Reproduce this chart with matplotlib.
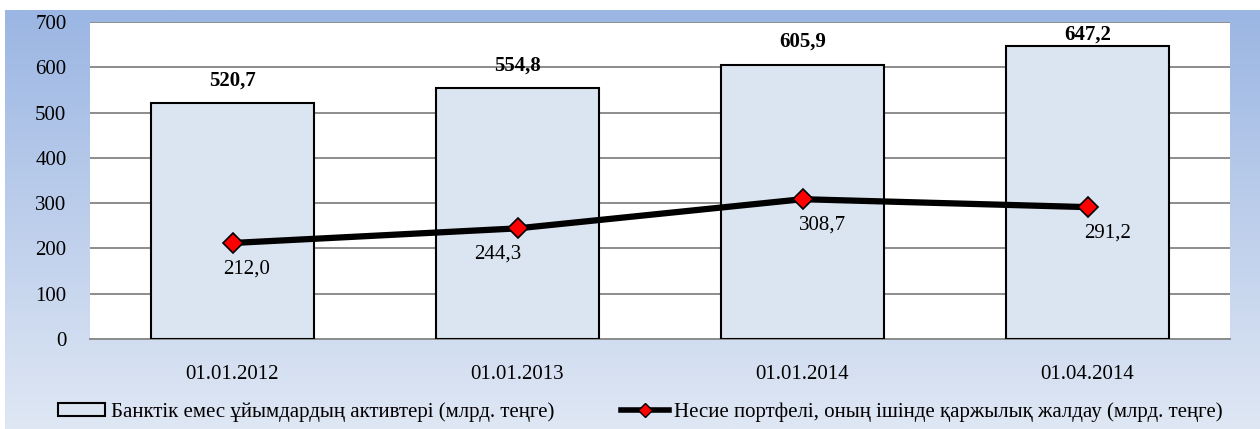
import matplotlib
matplotlib.use("Agg")
import matplotlib.pyplot as plt
import numpy as np
from matplotlib.lines import Line2D
from matplotlib.patches import Patch

categories = ["01.01.2012", "01.01.2013", "01.01.2014", "01.04.2014"]
assets = [520.7, 554.8, 605.9, 647.2]
loans = [212.0, 244.3, 308.7, 291.2]
asset_labels = ["520,7", "554,8", "605,9", "647,2"]
loan_labels = ["212,0", "244,3", "308,7", "291,2"]
yticks = [0, 100, 200, 300, 400, 500, 600, 700]
legend_bar = "Банктік емес ұйымдардың активтері (млрд. теңге)"
legend_line = "Несие портфелі, оның ішінде қаржылық жалдау (млрд. теңге)"

# horizontal offsets of the line labels (in category units)
loan_label_dx = [0.05, -0.07, 0.07, 0.07]

plt.rcParams['font.family'] = ['Liberation Serif', 'DejaVu Serif']
FS = 15

W, H = 1260, 429
fig = plt.figure(figsize=(W/100, H/100), dpi=100)

# gradient background
bg = fig.add_axes([5/W, 0, 1 - 5/W, 1 - 10/H], zorder=-10)
top = np.array([0x9b, 0xb6, 0xe3]) / 255
bot = np.array([0xdf, 0xe7, 0xf4]) / 255
t = np.linspace(0, 1, 256)[:, None]
grad = top[None, :] * (1 - t) + bot[None, :] * t
img = np.repeat(grad[:, None, :], 2, axis=1)
bg.imshow(img, aspect='auto', extent=[0, 1, 0, 1])
bg.axis('off')

left, right = 90, 1230
ytop, ybot = 22, 339
ax = fig.add_axes([left/W, 1 - ybot/H, (right-left)/W, (ybot-ytop)/H])
ax.set_facecolor('white')
x = np.arange(len(categories))
ax.bar(x, assets, width=0.57, color='#dbe5f1', edgecolor='black', linewidth=1.5, zorder=3)
ax.plot(x, loans, color='black', linewidth=4.5, marker='D', markersize=10,
        markerfacecolor='#ff0000', markeredgecolor='black', markeredgewidth=1.2, zorder=5)
for xi, v, lab in zip(x, assets, asset_labels):
    ax.text(xi, min(v + 50, 673), lab, ha='center', va='center', fontsize=FS,
            fontweight='bold', zorder=6)
for xi, v, lab, dx in zip(x, loans, loan_labels, loan_label_dx):
    ax.text(xi + dx, v - 57, lab, ha='center', va='center', fontsize=FS, zorder=6)

ax.set_xlim(-0.5, len(categories) - 0.5)
ax.set_ylim(0, 700)
ax.set_yticks(yticks)
ax.set_yticklabels([str(v) for v in yticks], fontsize=FS)
ax.set_xticks(x)
ax.set_xticklabels(categories, fontsize=FS)
ax.tick_params(axis='both', length=0)
ax.tick_params(axis='x', pad=19)
ax.tick_params(axis='y', pad=17)
ax.grid(axis='y', color='#8c8c8c', linewidth=1.4, zorder=0)
for s in ['left', 'right', 'top']:
    ax.spines[s].set_visible(False)
ax.spines['bottom'].set_color('#8c8c8c')
ax.spines['bottom'].set_linewidth(1.4)

handles = [Patch(facecolor='#dbe5f1', edgecolor='black', linewidth=1.5),
           Line2D([0], [0], color='black', linewidth=4, marker='D', markersize=7,
                  markerfacecolor='#ff0000', markeredgecolor='black')]
fig.legend(handles, [legend_bar, legend_line], loc='center', bbox_to_anchor=(640/W, 1 - 412/H),
           ncol=2, frameon=False, fontsize=FS, handlelength=2.3, handletextpad=0.25,
           columnspacing=3.2, handleheight=0.55)

fig.savefig('out.png', dpi=100)
